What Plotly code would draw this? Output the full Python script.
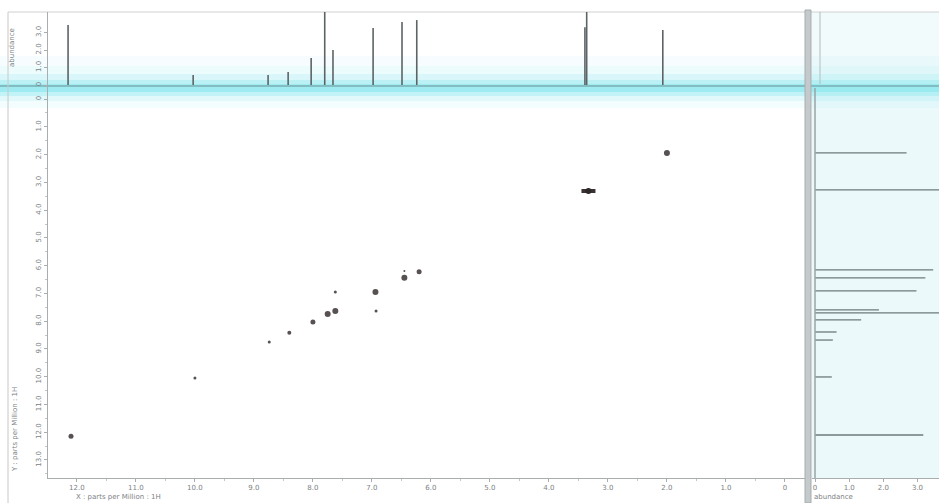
import plotly.graph_objects as go

# ---------------- data ----------------
# 2D cross/diagonal peaks (F2 = x ppm, F1 = y ppm)
peak_f2 = [12.10, 10.00, 8.74, 8.40, 8.00, 7.75, 7.62, 7.62, 6.94, 6.93, 6.45, 6.45, 6.20, 2.00]
peak_f1 = [12.15, 10.05, 8.75, 8.42, 8.03, 7.74, 7.63, 6.95, 6.95, 7.63, 6.44, 6.19, 6.22, 1.94]
peak_size = [5, 3, 3, 4, 5, 6, 6, 3, 6, 3, 6, 2, 5, 6]
big_f2 = [3.33]
big_f1 = [3.31]

# top 1D projection (F2)
top_ppm = [12.15, 10.03, 8.76, 8.42, 8.03, 7.80, 7.66, 6.98, 6.49, 6.24, 3.39, 3.36, 2.07]
top_abund = [3.43, 0.57, 0.57, 0.74, 1.54, 4.50, 2.00, 3.26, 3.60, 3.71, 3.30, 5.00, 3.14]

# right 1D projection (F1)
side_ppm = [1.94, 3.27, 6.15, 6.44, 6.91, 7.59, 7.70, 7.95, 8.39, 8.68, 10.01, 12.10]
side_abund = [2.68, 4.00, 3.46, 3.23, 2.97, 1.87, 3.80, 1.35, 0.63, 0.52, 0.49, 3.17]

x_ticks = [12, 11, 10, 9, 8, 7, 6, 5, 4, 3, 2, 1, 0]
x_ticklabels = ["12.0", "11.0", "10.0", "9.0", "8.0", "7.0", "6.0", "5.0", "4.0", "3.0", "2.0", "1.0", "0"]
y_ticks = [0, 1, 2, 3, 4, 5, 6, 7, 8, 9, 10, 11, 12, 13]
y_ticklabels = ["0", "1.0", "2.0", "3.0", "4.0", "5.0", "6.0", "7.0", "8.0", "9.0", "10.0", "11.0", "12.0", "13.0"]
top_ticks = [0, 1, 2, 3]
top_ticklabels = ["0", "1.0", "2.0", "3.0"]
side_ticks = [0, 1, 2, 3]
side_ticklabels = ["0", "1.0", "2.0", "3.0"]

# ---------------- figure ----------------
W, H = 939, 503
ML, MR, MT, MB = 48, 0, 12, 25
PW, PH = W - ML - MR, H - MT - MB


def px_x(p):
    return (p - ML) / PW


def px_y(p):
    return (H - MB - p) / PH


fig = go.Figure()

# top stick spectrum
sx, sy = [], []
for p, h in zip(top_ppm, top_abund):
    sx += [p, p, None]
    sy += [0, h, None]
fig.add_trace(go.Scatter(x=sx, y=sy, mode="lines", xaxis="x2", yaxis="y2",
                         line=dict(color="#5d6466", width=1.6), hoverinfo="skip", showlegend=False))

# side stick spectrum
rx, ry = [], []
for p, h in zip(side_ppm, side_abund):
    rx += [0, h, None]
    ry += [p, p, None]
fig.add_trace(go.Scatter(x=rx, y=ry, mode="lines", xaxis="x3", yaxis="y",
                         line=dict(color="#6e7a7c", width=1.3), hoverinfo="skip", showlegend=False))

# 2D peaks
fig.add_trace(go.Scatter(x=peak_f2, y=peak_f1, mode="markers", xaxis="x", yaxis="y",
                         marker=dict(size=peak_size, color="#3a3232", opacity=0.85,
                                     line=dict(width=0)),
                         hoverinfo="skip", showlegend=False))
fig.add_trace(go.Scatter(x=big_f2, y=big_f1, mode="markers", xaxis="x", yaxis="y",
                         marker=dict(size=10, symbol="line-ew", color="#3a3232",
                                     line=dict(width=4, color="#3a3232")),
                         hoverinfo="skip", showlegend=False))
fig.add_trace(go.Scatter(x=big_f2, y=big_f1, mode="markers", xaxis="x", yaxis="y",
                         marker=dict(size=6, color="#2e2828"),
                         hoverinfo="skip", showlegend=False))

# ---------------- background shapes (photo tint) ----------------
shapes = []
# right panel tint
shapes.append(dict(type="rect", xref="paper", yref="paper", x0=px_x(812), x1=1.0,
                   y0=px_y(478), y1=px_y(88), fillcolor="rgba(215,243,248,0.5)",
                   line=dict(width=0), layer="below"))
shapes.append(dict(type="rect", xref="paper", yref="paper", x0=px_x(812), x1=1.0,
                   y0=px_y(88), y1=px_y(12), fillcolor="rgba(228,247,249,0.5)",
                   line=dict(width=0), layer="below"))
# cyan band gradient
bands = [(56, 66, 0.06), (66, 74, 0.14), (74, 80, 0.28), (80, 84, 0.5), (84, 92, 0.72),
         (92, 96, 0.45), (96, 101, 0.22), (101, 108, 0.08)]
for y0, y1, a in bands:
    shapes.append(dict(type="rect", xref="paper", yref="paper", x0=px_x(0), x1=1.0,
                       y0=px_y(y1), y1=px_y(y0), fillcolor=f"rgba(120,228,236,{a})",
                       line=dict(width=0), layer="below"))
# baseline of top spectrum
shapes.append(dict(type="line", xref="paper", yref="paper", x0=px_x(0), x1=1.0,
                   y0=px_y(86), y1=px_y(86), line=dict(color="#7aaeb2", width=1.5), layer="below"))
# window frame lines
shapes.append(dict(type="line", xref="paper", yref="paper", x0=px_x(8), x1=px_x(8),
                   y0=px_y(503), y1=px_y(12), line=dict(color="#c8c8c8", width=1), layer="below"))
shapes.append(dict(type="line", xref="paper", yref="paper", x0=px_x(8), x1=1.0,
                   y0=px_y(12), y1=px_y(12), line=dict(color="#d0d0d0", width=1), layer="below"))
# divider bar between 2D and side panel
shapes.append(dict(type="rect", xref="paper", yref="paper", x0=px_x(805), x1=px_x(811),
                   y0=px_y(503), y1=px_y(10), fillcolor="#c4c9cb",
                   line=dict(color="#a7adaf", width=1), layer="above"))
shapes.append(dict(type="line", xref="paper", yref="paper", x0=px_x(815), x1=px_x(815),
                   y0=px_y(478), y1=px_y(88), line=dict(color="#9aa3a5", width=1.5), layer="above"))
shapes.append(dict(type="line", xref="paper", yref="paper", x0=px_x(820), x1=px_x(820),
                   y0=px_y(84), y1=px_y(12), line=dict(color="#b5bcbe", width=1), layer="above"))

tickfont = dict(family="DejaVu Sans", size=7, color="#7d8284")
axis_common = dict(showgrid=False, zeroline=False, showline=True, linecolor="#a9adae",
                   linewidth=1, ticks="outside", ticklen=3, tickcolor="#a9adae",
                   tickfont=tickfont, automargin=False)

d2_top = px_y(88)

fig.update_layout(
    width=W, height=H,
    margin=dict(l=ML, r=MR, t=MT, b=MB, autoexpand=False),
    paper_bgcolor="white", plot_bgcolor="rgba(0,0,0,0)",
    showlegend=False,
    shapes=shapes,
    xaxis=dict(domain=[0, px_x(805)], range=[12.49, -0.34], anchor="y",
               tickvals=x_ticks, ticktext=x_ticklabels,
               minor=dict(ticks="outside", ticklen=2, dtick=0.5, tickcolor="#c2c6c7"),
               **axis_common),
    yaxis=dict(domain=[0, d2_top], range=[13.65, -0.4], anchor="x",
               tickvals=y_ticks, ticktext=y_ticklabels, tickangle=-90,
               minor=dict(ticks="outside", ticklen=2, dtick=0.5, tickcolor="#c2c6c7"),
               **axis_common),
    xaxis2=dict(domain=[0, px_x(805)], matches="x", anchor="y2", showticklabels=False,
                showgrid=False, zeroline=False, showline=False, ticks=""),
    yaxis2=dict(domain=[d2_top, 1.0], range=[-0.17, 4.17], anchor="x2",
                tickvals=top_ticks, ticktext=top_ticklabels, tickangle=-90,
                **axis_common),
    xaxis3=dict(domain=[px_x(812), 1.0], range=[-0.09, 3.63], anchor="y",
                tickvals=side_ticks, ticktext=side_ticklabels,
                **axis_common),
)

ann_font = dict(family="DejaVu Sans", size=7, color="#7d8284")
fig.add_annotation(text="X : parts per Million : 1H", xref="paper", yref="paper",
                   x=px_x(74), y=px_y(497), xanchor="left", yanchor="middle",
                   showarrow=False, font=ann_font)
fig.add_annotation(text="Y : parts per Million : 1H", xref="paper", yref="paper",
                   x=px_x(15), y=px_y(430), xanchor="center", yanchor="middle",
                   textangle=-90, showarrow=False, font=ann_font)
fig.add_annotation(text="abundance", xref="paper", yref="paper",
                   x=px_x(12), y=px_y(48), xanchor="center", yanchor="middle",
                   textangle=-90, showarrow=False, font=ann_font)
fig.add_annotation(text="abundance", xref="paper", yref="paper",
                   x=px_x(812), y=px_y(497), xanchor="left", yanchor="middle",
                   showarrow=False, font=ann_font)

fig.write_html("out.html", config={"displayModeBar": False},
               post_script="document.body.style.margin='0px';")
